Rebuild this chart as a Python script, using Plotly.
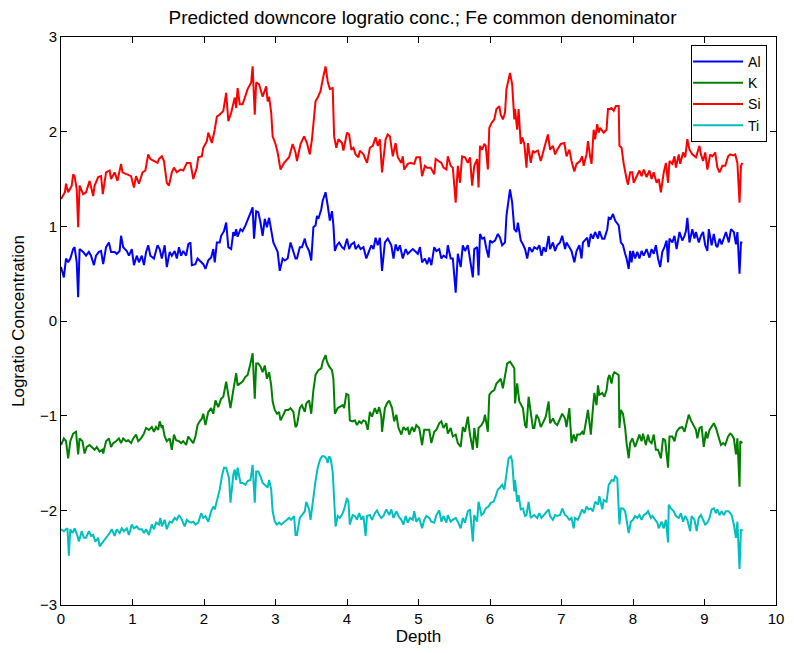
import plotly.graph_objects as go

# Downcore logratio concentrations (Fe common denominator), sampled by depth.
al_depth = [0.0,0.04,0.07,0.10,0.13,0.17,0.19,0.22,0.24,0.26, 0.31,0.35,0.39,0.42,0.46,0.49,0.53,0.56,0.59,0.63,
            0.67,0.70,0.75,0.78,0.82,0.84,0.87,0.92,0.95,0.99, 1.02,1.06,1.09,1.13,1.16,1.19,1.22,1.25,1.30,1.35,
            1.38,1.41,1.45,1.48,1.52,1.55,1.59,1.62,1.65,1.68, 1.71,1.75,1.78,1.81,1.83,1.88,1.91,1.96,1.99,2.02,
            2.06,2.10,2.13,2.15,2.18,2.22,2.24,2.28,2.31,2.34, 2.38,2.41,2.43,2.45,2.47,2.51,2.54,2.58,2.61,2.66,
            2.68,2.70,2.73,2.76,2.79,2.82,2.85,2.88,2.91,2.94, 2.97,3.00,3.03,3.06,3.10,3.13,3.17,3.21,3.25,3.28,
            3.30,3.34,3.37,3.41,3.43,3.47,3.50,3.53,3.56,3.58, 3.60,3.64,3.66,3.70,3.73,3.76,3.79,3.81,3.83,3.86,
            3.89,3.93,3.96,4.00,4.03,4.06,4.10,4.12,4.16,4.19, 4.23,4.27,4.31,4.34,4.37,4.40,4.43,4.46,4.49,4.53,
            4.57,4.62,4.65,4.68,4.71,4.74,4.78,4.82,4.85,4.88, 4.92,4.95,4.99,5.02,5.05,5.09,5.12,5.15,5.18,5.22,
            5.25,5.29,5.32,5.35,5.39,5.41,5.45,5.48,5.52,5.55, 5.59,5.62,5.65,5.69,5.72,5.76,5.78,5.82,5.84,5.86,
            5.89,5.92,5.95,5.98,6.00,6.03,6.07,6.11,6.14,6.17, 6.21,6.23,6.28,6.31,6.34,6.37,6.39,6.43,6.46,6.49,
            6.52,6.55,6.59,
            6.62,6.66,6.69,6.72,6.75,6.78,6.82,6.84,6.88,6.91, 6.94,6.98,7.01,7.05,7.07,7.11,7.14,7.18,7.21,7.25,
            7.28,7.30,7.34,7.36,7.38,7.41,7.44,7.47,7.51,7.53, 7.57,7.60,7.64,7.66,7.69,7.72,7.75,7.77,7.80,7.83,
            7.86,7.89,7.91,7.94,7.96,7.98,8.00,8.03,8.06,8.09, 8.12,8.15,8.19,8.23,8.26,8.29,8.32,8.35,8.38,8.41,
            8.44,8.47,8.49,8.51,8.55,8.58,8.61,8.65,8.69,8.72, 8.74,8.76,8.79,8.83,8.86,8.88,8.92,8.95,8.98,9.01,
            9.04,9.06,9.10,9.13,9.16,9.18,9.21,9.24,9.27,9.30, 9.34,9.37,9.41,9.44,9.46,9.49,9.51,9.53]
al_conc = [0.57,0.46,0.66,0.62,0.66,0.76,0.78,0.62,0.25,0.76, 0.73,0.69,0.73,0.69,0.59,0.69,0.73,0.74,0.60,0.78,
           0.83,0.73,0.73,0.71,0.74,0.90,0.78,0.74,0.69,0.76, 0.59,0.69,0.62,0.69,0.59,0.73,0.80,0.69,0.66,0.80,
           0.76,0.66,0.80,0.57,0.73,0.69,0.74,0.66,0.78,0.69, 0.74,0.69,0.81,0.83,0.59,0.60,0.66,0.62,0.60,0.55,
           0.64,0.67,0.76,0.62,0.83,0.83,0.90,0.95,1.04,0.78, 0.76,0.94,0.90,0.97,0.89,0.97,0.95,1.01,1.06,1.16,
           1.20,0.87,1.16,1.15,1.04,0.90,1.08,0.99,1.09,0.95, 0.83,0.78,0.73,0.53,0.66,0.64,0.66,0.83,0.74,0.66,
           0.66,0.78,0.78,0.87,0.80,0.74,0.64,0.99,1.01,1.11, 1.08,1.18,1.27,1.36,1.22,1.06,1.16,1.01,0.74,0.80,
           0.83,0.78,0.76,0.87,0.76,0.81,0.83,0.76,0.80,0.76, 0.78,0.66,0.74,0.80,0.76,0.88,0.80,0.88,0.53,0.83,
           0.87,0.80,0.66,0.81,0.74,0.80,0.66,0.76,0.71,0.73, 0.76,0.74,0.71,0.78,0.62,0.66,0.60,0.67,0.59,0.78,
           0.74,0.76,0.66,0.69,0.67,0.80,0.66,0.66,0.30,0.71, 0.57,0.80,0.74,0.80,0.66,0.46,0.76,0.78,0.48,0.92,
           0.87,0.88,0.76,0.67,0.85,0.83,0.85,0.92,0.88,0.80, 0.83,1.11,1.39,1.25,0.97,0.94,1.04,0.85,0.81,0.76,
           0.66,0.78,0.73,
           0.78,0.76,0.80,0.69,0.78,0.73,0.90,0.76,0.83,0.74, 0.80,0.83,0.90,0.76,0.83,0.78,0.74,0.62,0.74,0.80,
           0.66,0.83,0.87,0.88,0.78,0.92,0.87,0.94,0.87,0.95, 0.87,0.87,0.97,1.09,1.08,1.13,1.06,1.04,1.01,0.83,
           0.80,0.71,0.66,0.55,0.74,0.62,0.74,0.66,0.73,0.66, 0.74,0.69,0.76,0.67,0.76,0.71,0.80,0.66,0.57,0.73,
           0.78,0.85,0.62,0.87,0.83,0.90,0.76,0.94,0.85,0.90, 0.95,1.09,0.83,0.97,0.87,0.94,0.83,0.90,0.94,0.80,
           0.74,0.97,0.80,0.92,0.80,0.78,0.87,0.81,0.87,0.94, 0.83,0.97,0.94,0.81,0.94,0.50,0.83,0.83]

k_depth = [0.0,0.04,0.07,0.10,0.13,0.17,0.21,0.24,0.26,0.30, 0.33,0.36,0.40,0.44,0.47,0.50,0.54,0.58,0.59,0.63,
           0.67,0.70,0.73,0.77,0.81,0.84,0.87,0.91,0.94,0.98, 1.01,1.05,1.08,1.12,1.16,1.19,1.23,1.27,1.30,1.33,
           1.36,1.38,1.41,1.42,1.45,1.48,1.52,1.55,1.58,1.61, 1.65,1.68,1.71,1.75,1.78,1.82,1.85,1.88,1.91,1.94,
           1.97,1.99,2.02,2.06,2.10,2.13,2.16,2.20,2.24,2.27, 2.29,2.31,2.34,2.37,2.41,2.43,2.45,2.47,2.51,2.54,
           2.58,2.61,2.65,2.68,2.71,2.73,2.76,2.79,2.82,2.85, 2.88,2.91,2.94,2.96,2.99,3.02,3.05,3.07,3.11,3.14,
           3.18,3.21,3.25,3.28,
           3.30,3.34,3.37,3.41,3.43,3.47,3.50,3.53,3.56,3.58, 3.60,3.64,3.66,3.70,3.72,3.75,3.79,3.81,3.83,3.87,
           3.90,3.94,3.96,3.99,4.02,4.04,4.08,4.11,4.14,4.17, 4.20,4.23,4.26,4.29,4.32,4.35,4.39,4.42,4.45,4.48,
           4.49,4.53,4.56,4.59,4.63,4.66,4.69,4.72,4.76,4.79, 4.82,4.85,4.87,4.91,4.94,4.97,5.01,5.05,5.08,5.11,
           5.15,5.18,5.22,5.25,5.29,5.32,5.35,5.39,5.41,5.45, 5.48,5.52,5.55,5.59,5.62,5.65,5.69,5.72,5.76,5.78,
           5.82,5.84,5.88,5.91,5.93,5.97,5.99,6.02,6.06,6.09, 6.12,6.15,6.18,6.22,6.24,6.28,6.31,6.34,6.35,6.38,
           6.41,6.44,6.46,6.49,6.51,6.54,6.57,6.60,
           6.62,6.65,6.68,6.71,6.75,6.78,6.82,6.84,6.88,6.91, 6.94,6.98,7.01,7.05,7.07,7.11,7.14,7.17,7.20,7.22,
           7.26,7.29,7.31,7.35,7.37,7.40,7.41,7.44,7.46,7.49, 7.51,7.53,7.57,7.60,7.63,7.65,7.67,7.70,7.72,7.74,
           7.76,7.80,7.81,7.83,7.86,7.89,7.91,7.94,7.96,7.99, 8.03,8.06,8.09,8.12,8.14,8.18,8.21,8.23,8.26,8.29,
           8.32,8.35,8.37,8.39,8.42,8.45,8.49,8.51,8.55,8.58, 8.61,8.65,8.69,8.72,8.75,8.78,8.81,8.84,8.88,8.90,
           8.93,8.96,8.99,9.02,9.04,9.07,9.10,9.13,9.16,9.19, 9.23,9.26,9.29,9.33,9.36,9.38,9.41,9.44,9.46,9.49,
           9.50,9.53]
k_conc = [-1.31,-1.24,-1.27,-1.45,-1.27,-1.19,-1.17,-1.41,-1.24,-1.27, -1.40,-1.33,-1.31,-1.34,-1.36,-1.33,-1.38,-1.36,-1.40,-1.27,
          -1.24,-1.33,-1.29,-1.27,-1.24,-1.29,-1.24,-1.27,-1.26,-1.29, -1.24,-1.20,-1.27,-1.24,-1.19,-1.13,-1.15,-1.12,-1.17,-1.12,
          -1.15,-1.06,-1.13,-1.10,-1.22,-1.27,-1.24,-1.36,-1.20,-1.26, -1.27,-1.29,-1.27,-1.31,-1.22,-1.26,-1.29,-1.22,-1.10,-1.06,
          -1.03,-0.98,-1.10,-0.96,-0.92,-0.98,-0.84,-0.91,-0.82,-0.80, -0.71,-0.64,-0.78,-0.92,-0.73,-0.64,-0.55,-0.68,-0.66,-0.64,
          -0.59,-0.57,-0.45,-0.34,-0.82,-0.45,-0.45,-0.48,-0.54,-0.47, -0.61,-0.54,-0.68,-0.85,-0.94,-0.98,-0.96,-1.05,-0.99,-0.94,
          -0.94,-0.92,-0.96,-1.12,
          -1.10,-0.92,-0.89,-0.96,-0.87,-0.84,-0.98,-0.73,-0.57,-0.54, -0.52,-0.50,-0.43,-0.36,-0.43,-0.48,-0.52,-0.61,-0.98,-0.92,
          -0.91,-0.89,-0.92,-0.77,-0.78,-1.05,-1.06,-1.05,-1.10,-1.06, -1.08,-1.05,-1.06,-1.15,-0.96,-1.01,-0.92,-0.98,-0.91,-1.01,
          -1.17,-0.92,-0.87,-0.84,-0.92,-1.06,-0.99,-1.13,-1.20,-1.12, -1.15,-1.13,-1.20,-1.12,-1.17,-1.10,-1.13,-1.31,-1.15,-1.15,
          -1.15,-1.29,-1.17,-1.15,-1.08,-1.06,-1.13,-1.08,-1.19,-1.13, -1.22,-1.20,-1.29,-1.33,-1.12,-1.17,-1.01,-1.20,-1.36,-1.13,
          -1.34,-1.13,-1.10,-1.06,-0.99,-1.17,-0.78,-0.75,-0.73,-0.66, -0.64,-0.61,-0.71,-0.55,-0.45,-0.43,-0.47,-0.50,-0.87,-0.66,
          -0.85,-0.89,-0.92,-1.10,-1.13,-0.80,-0.99,-1.13,
          -1.13,-0.99,-1.03,-1.12,-1.06,-1.01,-0.85,-1.08,-1.03,-1.08, -1.10,-1.03,-0.98,-1.03,-1.12,-0.92,-1.29,-1.20,-1.27,-1.20,
          -1.20,-1.17,-1.20,-1.03,-0.94,-1.13,-1.20,-0.92,-0.76,-0.89, -0.68,-0.78,-0.76,-0.80,-0.73,-0.61,-0.57,-0.66,-0.57,-0.54,
          -0.55,-0.57,-1.13,-0.94,-0.98,-1.13,-1.29,-1.45,-1.29,-1.24, -1.33,-1.26,-1.20,-1.27,-1.19,-1.31,-1.20,-1.27,-1.29,-1.20,
          -1.36,-1.36,-1.41,-1.45,-1.24,-1.26,-1.55,-1.22,-1.22,-1.27, -1.17,-1.13,-1.12,-1.17,-1.08,-0.99,-1.05,-1.10,-1.15,-1.24,
          -1.13,-1.12,-1.33,-1.17,-1.24,-1.15,-1.12,-1.08,-1.13,-1.20, -1.31,-1.29,-1.31,-1.22,-1.19,-1.20,-1.24,-1.41,-1.24,-1.75,
          -1.27,-1.29]

si_depth = [0.0,0.055,0.07,0.10,0.15,0.17,0.19,0.22,0.24,0.26, 0.31,0.35,0.40,0.45,0.47,0.52,0.56,0.585,0.63,0.68,
            0.70,0.75,0.79,0.84,0.86,0.91,0.98,1.02,1.05,1.09, 1.14,1.18,1.22,1.25,1.30,1.35,1.37,1.41,1.44,1.48,
            1.51,1.55,1.58,1.62,1.67,1.71,1.76,1.81,1.85,1.90, 1.92,1.97,1.99,2.04,2.06,2.11,2.15,2.18,2.22,2.27,
            2.31,2.34,2.38,2.43,2.45,2.47,2.50,2.54,2.61,2.66, 2.68,2.71,2.73,2.77,2.82,2.87,2.89,2.91,2.94,2.96,
            3.00,3.03,3.07,3.12,3.19,3.24,3.28,
            3.30,3.35,3.40,3.44,3.48,3.51,3.56,3.59,3.63,3.66, 3.70,3.73,3.76,3.80,3.82,3.85,3.88,3.93,3.95,4.00,
            4.03,4.06,4.09,4.12,4.16,4.18,4.23,4.28,4.32,4.36, 4.40,4.43,4.46,4.49,4.54,4.57,4.60,4.64,4.68,4.71,
            4.76,4.78,4.80,4.85,4.89,4.94,4.97,5.02,5.05,5.09, 5.12,5.17,5.22,5.24,5.29,5.32,5.35,5.39,5.41,5.45,
            5.48,5.52,5.55,5.58,5.61,5.65,5.69,5.72,5.75,5.78, 5.82,5.84,5.86,5.89,5.92,5.94,5.97,5.99,6.02,6.06,
            6.09,6.13,6.15,6.18,6.21,6.23,6.28,6.31,6.34,6.35, 6.38,6.40,6.43,6.45,6.48,6.51,6.53,6.57,6.60,
            6.62,6.67,6.71,6.76,6.81,6.84,6.88,6.91,6.94,6.99, 7.04,7.07,7.11,7.14,7.18,7.21,7.26,7.29,7.31,7.35,
            7.37,7.40,7.42,7.45,7.47,7.50,7.52,7.54,7.59,7.63, 7.65,7.68,7.70,7.73,7.76,7.80,7.81,7.84,7.87,7.91,
            7.93,7.96,7.99,8.01,8.05,8.09,8.12,8.15,8.19,8.23, 8.26,8.29,8.33,8.36,8.39,8.43,8.46,8.49,8.51,8.55,
            8.58,8.60,8.64,8.66,8.70,8.73,8.76,8.79,8.83,8.88, 8.93,8.95,8.98,9.01,9.04,9.08,9.11,9.15,9.18,9.21,
            9.25,9.29,9.33,9.36,9.40,9.43,9.46,9.49,9.51,9.53]
si_conc = [1.29,1.36,1.45,1.36,1.43,1.55,1.53,1.39,0.99,1.43, 1.34,1.36,1.48,1.32,1.43,1.52,1.53,1.34,1.57,1.59,
           1.50,1.57,1.48,1.66,1.57,1.55,1.53,1.41,1.53,1.45, 1.57,1.59,1.76,1.71,1.69,1.67,1.71,1.74,1.69,1.46,
           1.43,1.57,1.62,1.57,1.60,1.59,1.67,1.67,1.50,1.62, 1.73,1.74,1.83,1.90,1.99,1.88,2.02,2.16,2.18,2.22,
           2.41,2.11,2.20,2.36,2.25,2.46,2.29,2.29,2.45,2.52, 2.69,2.18,2.52,2.50,2.37,2.48,2.32,2.37,2.20,1.95,
           1.87,1.78,1.60,1.67,1.73,1.87,1.78,
           1.69,1.87,1.95,1.88,1.76,1.92,2.32,2.36,2.43,2.55, 2.69,2.53,2.45,2.46,1.95,1.83,1.92,1.88,1.80,1.99,
           1.97,1.81,1.83,1.76,1.73,1.80,1.76,1.67,1.83,1.85, 1.94,1.85,1.92,1.57,1.92,1.97,1.95,1.74,1.88,1.73,
           1.67,1.74,1.60,1.66,1.67,1.66,1.73,1.73,1.53,1.64, 1.62,1.62,1.55,1.71,1.69,1.67,1.62,1.60,1.74,1.64,
           1.62,1.25,1.64,1.46,1.74,1.73,1.67,1.73,1.43,1.64, 1.71,1.41,1.85,1.81,1.87,1.85,1.60,2.04,2.09,2.13,
           2.24,2.27,2.18,2.13,2.20,2.45,2.62,2.50,2.13,2.24, 2.02,2.24,1.87,1.94,1.87,1.62,1.88,1.67,1.80,
           1.78,1.80,1.69,1.83,1.97,1.81,1.85,1.76,1.81,1.87, 1.88,1.74,1.81,1.69,1.58,1.66,1.69,1.74,1.64,1.76,
           1.90,1.74,1.66,2.02,1.92,2.08,1.99,2.04,1.99,2.02, 2.24,2.24,2.25,2.22,2.27,2.27,1.85,1.83,1.66,1.50,
           1.44,1.57,1.57,1.46,1.53,1.59,1.53,1.60,1.52,1.59, 1.50,1.57,1.46,1.50,1.36,1.57,1.67,1.46,1.69,1.66,
           1.74,1.62,1.76,1.66,1.78,1.73,1.92,1.81,1.76,1.73, 1.85,1.76,1.69,1.78,1.60,1.76,1.74,1.78,1.62,1.57,
           1.64,1.64,1.74,1.76,1.75,1.76,1.67,1.25,1.64,1.67]

ti_depth = [0.0,0.04,0.07,0.09,0.11,0.13,0.16,0.19,0.23,0.25, 0.29,0.32,0.35,0.39,0.42,0.45,0.48,0.52,0.54,0.58,
            0.61,0.64,0.68,0.71,0.75,0.78,0.82,0.85,0.88,0.92, 0.95,0.99,1.02,1.06,1.09,1.13,1.16,1.19,1.23,1.27,
            1.30,1.33,1.37,1.39,1.41,1.45,1.48,1.52,1.55,1.59, 1.62,1.65,1.69,1.73,1.76,1.79,1.82,1.85,1.88,1.92,
            1.96,1.99,2.02,2.06,2.10,2.13,2.15,2.19,2.22,2.25, 2.28,2.31,2.35,2.37,2.41,2.43,2.45,2.47,2.51,2.54,
            2.58,2.61,2.65,2.68,2.71,2.73,2.76,2.79,2.82,2.85, 2.89,2.91,2.94,2.96,2.99,3.02,3.05,3.08,3.12,3.16,
            3.19,3.22,3.26,3.28,
            3.30,3.34,3.37,3.41,3.43,3.47,3.49,3.53,3.56,3.59, 3.62,3.65,3.68,3.71,3.73,3.75,3.77,3.80,3.82,3.84,
            3.87,3.90,3.94,3.96,4.00,4.02,4.04,4.08,4.11,4.14, 4.17,4.20,4.23,4.26,4.28,4.32,4.35,4.39,4.42,4.45,
            4.48,4.51,4.55,4.59,4.62,4.65,4.69,4.72,4.76,4.79, 4.82,4.85,4.88,4.92,4.94,4.97,5.01,5.05,5.08,5.11,
            5.15,5.18,5.22,5.25,5.29,5.32,5.35,5.39,5.41,5.45, 5.48,5.52,5.55,5.59,5.62,5.65,5.69,5.72,5.76,5.78,
            5.82,5.84,5.88,5.91,5.94,5.98,6.01,6.05,6.08,6.11, 6.14,6.17,6.20,6.23,6.26,6.29,6.31,6.34,6.35,6.38,
            6.40,6.43,6.46,6.49,6.51,6.54,6.57,6.60,
            6.62,6.66,6.69,6.72,6.75,6.78,6.82,6.84,6.88,6.91, 6.94,6.98,7.01,7.05,7.07,7.11,7.14,7.17,7.19,7.23,
            7.26,7.29,7.32,7.35,7.38,7.41,7.44,7.47,7.51,7.53, 7.57,7.59,7.63,7.66,7.68,7.70,7.73,7.75,7.78,7.81,
            7.83,7.86,7.89,7.91,7.94,7.97,8.00,8.03,8.06,8.09, 8.12,8.15,8.19,8.21,8.25,8.27,8.31,8.34,8.36,8.40,
            8.43,8.46,8.49,8.50,8.53,8.57,8.60,8.64,8.67,8.70, 8.73,8.76,8.80,8.82,8.86,8.89,8.92,8.95,8.98,9.01,
            9.04,9.07,9.10,9.13,9.16,9.18,9.21,9.24,9.27,9.30, 9.34,9.38,9.41,9.44,9.46,9.49,9.51,9.53]
ti_conc = [-2.20,-2.22,-2.20,-2.19,-2.48,-2.20,-2.24,-2.19,-2.27,-2.33, -2.22,-2.29,-2.29,-2.22,-2.27,-2.26,-2.33,-2.29,-2.38,-2.34,
           -2.31,-2.29,-2.24,-2.20,-2.27,-2.20,-2.24,-2.19,-2.22,-2.19, -2.26,-2.15,-2.19,-2.17,-2.20,-2.20,-2.24,-2.20,-2.26,-2.15,
           -2.20,-2.13,-2.15,-2.08,-2.17,-2.10,-2.20,-2.12,-2.13,-2.08, -2.10,-2.05,-2.10,-2.17,-2.10,-2.12,-2.13,-2.12,-2.15,-2.13,
           -2.03,-2.08,-2.06,-2.12,-2.01,-1.96,-1.99,-1.87,-1.78,-1.64, -1.55,-1.55,-1.66,-1.92,-1.62,-1.57,-1.68,-1.55,-1.71,-1.71,
           -1.73,-1.69,-1.68,-1.52,-1.92,-1.59,-1.59,-1.64,-1.71,-1.73, -1.76,-1.68,-1.78,-2.01,-2.12,-2.15,-2.13,-2.15,-2.12,-2.10,
           -2.08,-2.10,-2.06,-2.26,
           -2.26,-2.08,-2.05,-2.01,-1.91,-1.99,-2.10,-1.84,-1.69,-1.55, -1.47,-1.43,-1.43,-1.45,-1.50,-1.43,-1.45,-1.59,-1.87,-2.17,
           -2.06,-2.08,-2.03,-1.99,-1.87,-1.91,-2.15,-2.05,-2.06,-2.10, -2.03,-2.10,-2.06,-2.27,-2.06,-2.05,-2.10,-2.03,-2.00,-2.05,
           -2.08,-2.06,-1.99,-2.05,-1.99,-2.08,-2.01,-2.06,-2.10,-2.15, -2.06,-2.13,-2.08,-2.10,-2.01,-2.12,-2.08,-2.19,-2.10,-2.06,
           -2.08,-2.12,-2.13,-2.05,-2.00,-2.12,-2.06,-2.13,-2.05,-2.12, -2.10,-2.08,-2.12,-2.19,-2.08,-2.13,-2.01,-1.99,-2.33,-2.05,
           -2.12,-1.91,-2.05,-2.03,-1.98,-1.96,-1.92,-1.91,-1.85,-1.78, -1.76,-1.73,-1.78,-1.59,-1.45,-1.43,-1.48,-1.80,-1.68,-1.91,
           -1.84,-1.99,-1.98,-2.06,-2.05,-1.91,-2.08,-2.06,
           -2.05,-2.08,-2.03,-2.08,-2.05,-2.03,-1.99,-2.06,-2.10,-2.05, -2.06,-2.05,-1.98,-2.05,-2.06,-2.10,-2.08,-2.19,-2.08,-2.10,
           -2.05,-1.99,-2.03,-1.96,-1.99,-1.98,-2.01,-1.91,-1.94,-1.85, -1.99,-1.89,-1.91,-1.73,-1.71,-1.68,-1.69,-1.64,-1.66,-2.15,
           -1.98,-1.98,-2.01,-2.12,-2.24,-2.12,-2.10,-2.06,-2.08,-2.05, -2.10,-2.05,-2.03,-2.01,-2.08,-2.06,-2.10,-2.13,-2.19,-2.12,
           -2.19,-2.10,-2.34,-1.94,-1.98,-2.01,-2.06,-2.08,-2.03,-2.12, -2.06,-2.10,-2.22,-2.06,-2.10,-2.22,-2.08,-2.05,-2.10,-2.15,
           -2.13,-2.08,-1.99,-1.98,-2.03,-1.99,-2.05,-2.01,-2.05,-2.01, -2.01,-2.05,-2.15,-2.29,-2.12,-2.62,-2.20,-2.22]

series = [
    ("Al", al_depth, al_conc, "#0000ff"),
    ("K", k_depth, k_conc, "#008000"),
    ("Si", si_depth, si_conc, "#ff0000"),
    ("Ti", ti_depth, ti_conc, "#00bfbf"),
]

FONT = "Liberation Sans, Arial, Helvetica, sans-serif"

fig = go.Figure()
for name, d, c, color in series:
    assert len(d) == len(c), (name, len(d), len(c))
    fig.add_trace(go.Scatter(x=d, y=c, name=name, mode="lines",
                             line=dict(color=color, width=2)))

axis_common = dict(showline=True, linecolor="black", linewidth=1, mirror="allticks",
                   ticks="inside", ticklen=6, tickcolor="black", showgrid=False,
                   zeroline=False, tickfont=dict(size=15, color="black"))

fig.update_layout(
    width=794, height=653,
    margin=dict(l=61, r=10, t=37, b=46),
    paper_bgcolor="white", plot_bgcolor="white",
    font=dict(family=FONT, color="black"),
    title=dict(text="Predicted downcore logratio conc.; Fe common denominator",
               x=(61 + 784) / 2 / 794, xanchor="center", y=1 - 17 / 653, yanchor="middle",
               font=dict(size=19, color="black")),
    xaxis=dict(range=[0, 10], dtick=1, tick0=0,
               title=dict(text="Depth", font=dict(size=17), standoff=4), **axis_common),
    yaxis=dict(range=[-3, 3], dtick=1, tick0=-3,
               title=dict(text="Logratio Concentration", font=dict(size=17), standoff=10), **axis_common),
    legend=dict(x=0.9875, y=0.986, xanchor="right", yanchor="top",
                bgcolor="white", bordercolor="black", borderwidth=1,
                font=dict(size=14), itemwidth=50, tracegroupgap=0,
                indentation=-4),
    showlegend=True,
)

fig.write_html("out.html")
